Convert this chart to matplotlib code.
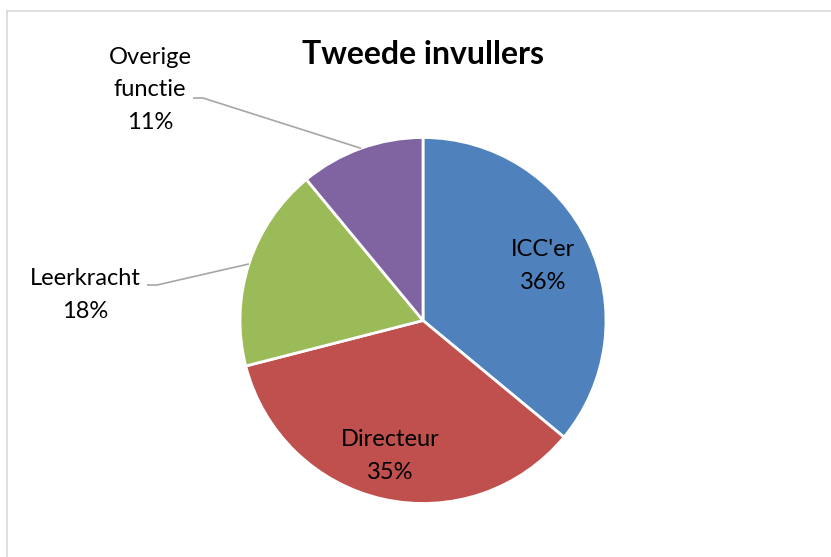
import numpy as np
from matplotlib import pyplot as plt
from matplotlib.lines import Line2D

# data...
labels = ["ICC'er", "Directeur", "Leerkracht", "Overige\nfunctie"]
shares = [36, 35, 18, 11]
colours = ["#4F81BD", "#C0504D", "#9BBB59", "#8064A2"]

title = "Tweede invullers"

plt.rcParams['font.family'] = ['Lato', 'DejaVu Sans']

W, H = 831, 557

fig = plt.figure(figsize=(W / 100, H / 100), dpi=100)
ax = fig.add_axes([0, 0, 1, 1])

# chart frame (only top and left edges visible)...
fig.add_artist(Line2D([7 / W, 1], [1 - 11 / H, 1 - 11 / H], transform=fig.transFigure, color="#D9D9D9", lw=1.2))
fig.add_artist(Line2D([7 / W, 7 / W], [0, 1 - 11 / H], transform=fig.transFigure, color="#D9D9D9", lw=1.2))

centre = (423, H - 320.5)
radius = 183

wedges, _ = ax.pie(shares, colors=colours, startangle=90, counterclock=False,
                   center=centre, radius=radius, frame=True,
                   wedgeprops=dict(edgecolor='white', linewidth=2))
ax.set_xlim(0, W)
ax.set_ylim(0, H)
ax.set_aspect('equal')
ax.axis('off')

text_kw = dict(ha='center', va='center', fontsize=17, linespacing=1.7, color='black')

# inside labels...
inside_pos = {0: (543, H - 266), 1: (390, H - 456)}
for i, (x, y) in inside_pos.items():
    ax.text(x, y, "%s\n%d%%" % (labels[i], shares[i]), **text_kw)

# outside labels with leader lines...
outside = {2: ((85, H - 295), (147, H - 285)), 3: ((150, H - 90), (193, H - 98))}
for i, ((tx, ty), (lx, ly)) in outside.items():
    ax.text(tx, ty, "%s\n%d%%" % (labels[i], shares[i]), **text_kw)

    w = wedges[i]
    mid = np.radians((w.theta1 + w.theta2) / 2)
    ex = centre[0] + radius * np.cos(mid)
    ey = centre[1] + radius * np.sin(mid)
    ax.plot([lx, lx + 10, ex], [ly, ly, ey], color="#A6A6A6", lw=1.2, solid_capstyle='butt')

ax.text(423, H - 55, title, ha='center', va='center', fontsize=23, fontweight='bold')

fig.savefig("out.png", dpi=100)
